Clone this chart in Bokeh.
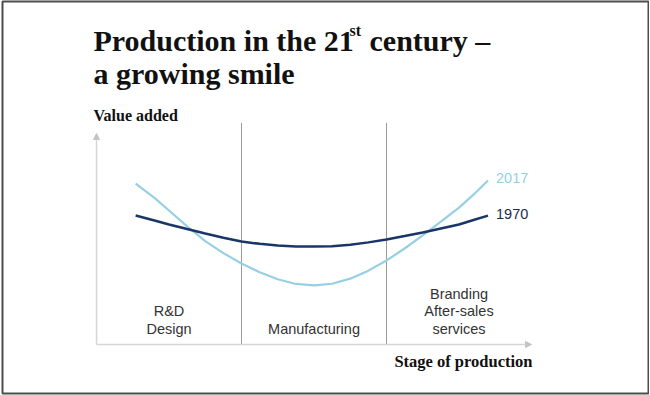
from bokeh.plotting import figure
from bokeh.models import Range1d, Label, Arrow, NormalHead
from bokeh.core.properties import value
from bokeh.embed import file_html
from bokeh.resources import INLINE

# ---------------- data ----------------
title_line1_a = "Production in the 21"
title_sup = "st"
title_line1_b = "century \u2013"
title_line2 = "a growing smile"
y_axis_label = "Value added"
x_axis_label = "Stage of production"

stage_names = ["R&D\nDesign", "Manufacturing", "Branding\nAfter-sales\nservices"]
stage_centers = [0.5, 1.5, 2.5]
stage_bounds = [1.0, 2.0]

# position along the production chain (stage units)
stage_x = [0.27, 0.4, 0.5, 0.625, 0.75, 0.875, 1.0, 1.125, 1.25, 1.375, 1.5,
           1.625, 1.75, 1.875, 2.0, 2.125, 2.25, 2.375, 2.5, 2.6, 2.7]
value_2017 = [76.3, 69.5, 63.5, 56.0, 49.0, 43.3, 38.4, 34.2, 30.9, 28.7, 28.0,
              28.8, 31.2, 35.0, 39.8, 45.5, 51.7, 58.2, 64.9, 71.0, 77.7]
value_1970 = [61.1, 58.8, 56.9, 54.7, 52.6, 50.6, 48.8, 47.7, 46.9, 46.5, 46.4,
              46.6, 47.3, 48.4, 49.8, 51.4, 53.1, 55.0, 56.9, 59.0, 61.1]
series_names = ["2017", "1970"]

x_axis_max = 3.0
y_axis_max = 100.0
divider_top = 105.0

# ---------------- layout ----------------
W, H = 649, 395
FL, FT, FR, FB = 2, 1, 1, 2      # frame inset (frame outline = picture border)
AX_X, AX_Y = 96, 344             # pixel position of the origin
PX_X, PX_Y = 145.0, 2.11         # pixels per unit


def dx(px):
    return (px - AX_X) / PX_X


def dy(py):
    return (AX_Y - py) / PX_Y


p = figure(width=W, height=H, output_backend="svg", toolbar_location=None,
           x_axis_location=None, y_axis_location=None,
           min_border_left=FL, min_border_top=FT, min_border_right=FR, min_border_bottom=FB,
           x_range=Range1d(dx(FL), dx(W - FR)), y_range=Range1d(dy(H - FB), dy(FT)))
p.grid.visible = False
p.background_fill_color = "white"
p.border_fill_color = "white"
p.outline_line_color = "#4d4d4d"
p.outline_line_width = 2

LIGHT = "#97cfe4"
DARK = "#1a3567"
SERIF = "Liberation Serif"
SANS = "Liberation Sans"

# axes with arrow heads
axis_col = "#d6d6d6"
p.add_layout(Arrow(end=NormalHead(size=6, fill_color="#c4c4c4", line_color="#c4c4c4"),
                   x_start=0, y_start=0, x_end=x_axis_max, y_end=0,
                   line_color=axis_col, line_width=1.5))
p.add_layout(Arrow(end=NormalHead(size=6, fill_color="#c4c4c4", line_color="#c4c4c4"),
                   x_start=0, y_start=0, x_end=0, y_end=y_axis_max,
                   line_color=axis_col, line_width=1.5))

# stage dividers
p.segment(x0=stage_bounds, y0=[0] * len(stage_bounds), x1=stage_bounds,
          y1=[divider_top] * len(stage_bounds), line_color="#9a9a9a", line_width=1)

# curves
p.line(stage_x, value_2017, line_color=LIGHT, line_width=2.2)
p.line(stage_x, value_1970, line_color=DARK, line_width=2.5)

# series labels at line ends
p.text(x=[stage_x[-1]], y=[value_2017[-1]], text=[series_names[0]], x_offset=8, y_offset=-3,
       text_font=value(SANS), text_font_size="14.5px", text_color=LIGHT,
       text_baseline="middle", text_align="left")
p.text(x=[stage_x[-1]], y=[value_1970[-1]], text=[series_names[1]], x_offset=8, y_offset=-2,
       text_font=value(SANS), text_font_size="14.5px", text_color="#1c2b4a",
       text_baseline="middle", text_align="left")

# stage labels (bottom-aligned lines)
line_gap = 17.5 / PX_Y
base_y = dy(328)
lx, ly, lt = [], [], []
for cx, name in zip(stage_centers, stage_names):
    parts = name.split("\n")
    for i, part in enumerate(reversed(parts)):
        lx.append(cx)
        ly.append(base_y + i * line_gap)
        lt.append(part)
p.text(x=lx, y=ly, text=lt, text_font=value(SANS), text_font_size="14.5px",
       text_color="#333333", text_align="center", text_baseline="alphabetic")


# titles / axis titles
def lab(x, y, text, size, align="left"):
    p.add_layout(Label(x=x, y=y, text=text, text_font=SERIF, text_font_style="bold",
                       text_font_size=size, text_color="#111111",
                       text_align=align, text_baseline="alphabetic"))


lab(dx(93), dy(40), title_line1_a, "30px")
lab(dx(349), dy(30), title_sup, "16px")
lab(dx(369), dy(40), title_line1_b, "30px")
lab(dx(93), dy(73), title_line2, "30px")
lab(dx(93), dy(115), y_axis_label, "16px")
lab(dx(532), dy(361), x_axis_label, "16.5px", align="right")

open("out.html", "w").write(file_html(p, INLINE))
